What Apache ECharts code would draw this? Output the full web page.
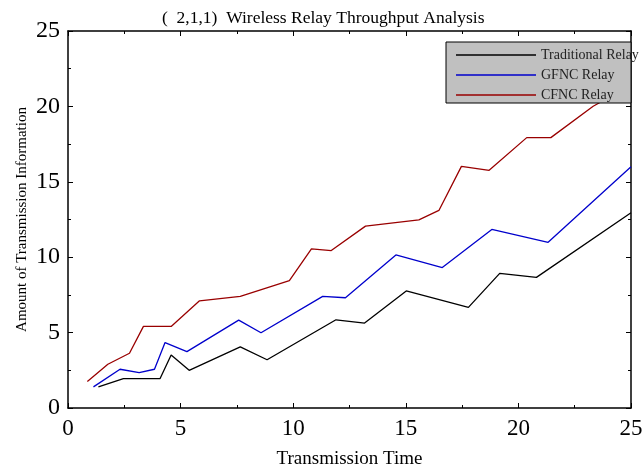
<!DOCTYPE html>
<html>
<head>
<meta charset="utf-8">
<script src="https://cdn.jsdelivr.net/npm/echarts@6/dist/echarts.min.js"></script>
<style>
  html, body { margin: 0; padding: 0; background: #fff; }
  #chart { width: 642px; height: 468px; }
</style>
</head>
<body>
<div id="chart"></div>
<script>
// [time, amount]
const traditional = [[1.35, 1.4], [2.46, 1.95], [4.09, 1.95], [4.58, 3.52], [5.38, 2.5], [7.65, 4.05],
  [8.84, 3.2], [11.9, 5.85], [13.17, 5.63], [15.02, 7.76], [17.78, 6.67], [19.17, 8.93], [20.8, 8.66], [25, 12.95]];
const gfnc = [[1.13, 1.4], [2.31, 2.57], [3.16, 2.35], [3.84, 2.57], [4.31, 4.34], [5.28, 3.74], [7.58, 5.83],
  [8.57, 4.99], [11.31, 7.4], [12.32, 7.31], [14.56, 10.15], [16.62, 9.31], [18.82, 11.84], [21.32, 10.99], [25, 16.0]];
const cfnc = [[0.86, 1.75], [1.77, 2.9], [2.73, 3.63], [3.35, 5.41], [4.58, 5.41], [5.84, 7.11], [7.65, 7.4],
  [9.83, 8.44], [10.81, 10.55], [11.69, 10.44], [13.21, 12.06], [15.58, 12.48], [16.47, 13.1], [17.47, 16.02],
  [18.7, 15.76], [20.37, 17.93], [21.44, 17.93], [23.32, 20.01], [25, 21.4]];
const seriesNames = ['Traditional Relay', 'GFNC Relay', 'CFNC Relay'];
const colors = ['#000000', '#0000cc', '#990000'];

const serif = 'Liberation Serif, Times New Roman, serif';

function frameAxis(extra) {
  return Object.assign({
    type: 'value',
    min: 0,
    max: 25,
    interval: 5,
    axisLine: { show: true, onZero: false, lineStyle: { color: '#000', width: 1.5 } },
    axisTick: { show: true, inside: true, length: 5, lineStyle: { color: '#000', width: 1 } },
    minorTick: { show: true, splitNumber: 2, length: 3, lineStyle: { color: '#000', width: 1 } },
    splitLine: { show: false }
  }, extra);
}

const chart = echarts.init(document.getElementById('chart'));
chart.setOption({
  animation: false,
  title: {
    text: '(  2,1,1)  Wireless Relay Throughput Analysis',
    left: 157,
    top: 4,
    textStyle: { fontFamily: serif, fontSize: 17.5, fontWeight: 'normal', color: '#000' }
  },
  grid: { left: 68, top: 31, right: 11, bottom: 60, containLabel: false, outerBoundsMode: 'none' },
  xAxis: [
    frameAxis({
      position: 'bottom',
      name: 'Transmission Time',
      nameLocation: 'middle',
      nameGap: 42,
      nameMoveOverlap: false,
      nameTextStyle: { fontFamily: serif, fontSize: 19, color: '#000' },
      axisLabel: { fontFamily: serif, fontSize: 23, color: '#000', margin: 9 }
    }),
    frameAxis({ position: 'top', axisLabel: { show: false } })
  ],
  yAxis: [
    frameAxis({
      position: 'left',
      name: 'Amount of Transmission Information',
      nameLocation: 'middle',
      nameGap: 38,
      nameMoveOverlap: false,
      nameTextStyle: { fontFamily: serif, fontSize: 15, color: '#000' },
      axisLabel: { fontFamily: serif, fontSize: 24, color: '#000', margin: 8 }
    }),
    frameAxis({ position: 'right', axisLabel: { show: false } })
  ],
  legend: {
    orient: 'vertical',
    z: 110,
    left: 451,
    top: 43,
    itemWidth: 80,
    itemHeight: 1.5,
    itemGap: 6,
    icon: 'rect',
    data: seriesNames,
    textStyle: { fontFamily: serif, fontSize: 14, color: '#222', lineHeight: 14 }
  },
  graphic: {
    z: 100,
    elements: [{
      type: 'rect',
      z: 100,
      shape: { x: 446, y: 42, width: 185, height: 61 },
      style: { fill: '#c0c0c0', stroke: '#000', lineWidth: 1 }
    }]
  },
  series: [traditional, gfnc, cfnc].map((d, i) => ({
    name: seriesNames[i],
    type: 'line',
    data: d,
    showSymbol: false,
    symbol: 'none',
    lineStyle: { color: colors[i], width: 1.3 },
    itemStyle: { color: colors[i] }
  }))
});
</script>
</body>
</html>
